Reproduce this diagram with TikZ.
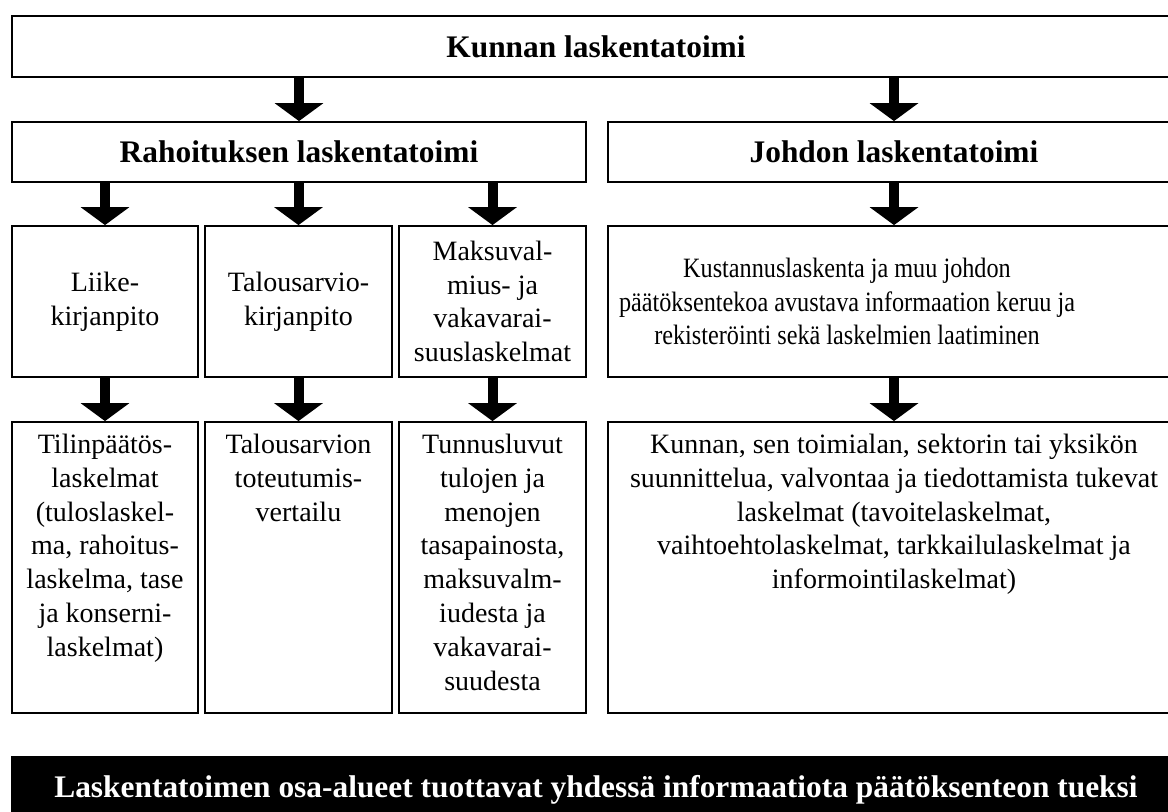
\documentclass[tikz,border=0pt]{standalone}
\usepackage{fontspec}
\setmainfont{Liberation Serif}
\newfontfamily\narrowserif[FakeStretch=0.865]{Liberation Serif}
\usetikzlibrary{arrows.meta}

\begin{document}
\begin{tikzpicture}[
        x=0.5pt, y=-0.5pt,
        box/.style={draw, line width=0.9pt, inner sep=0pt, align=center,
            font=\fontsize{14}{16.9}\selectfont},
        head/.style={box, font=\fontsize{15.7}{18}\selectfont\bfseries},
        toptext/.style={anchor=north, align=center, yshift=-3pt,
            font=\fontsize{14}{16.9}\selectfont},
        flow/.style={line width=5pt, -{Triangle[length=9pt, width=24pt]}}
    ]
    \useasboundingbox (0,0) rectangle (1168,812);
    \clip (0,0) rectangle (1168,812);

    % Top levels
    \node[head, minimum width=584pt, minimum height=30.5pt] (kunta) at (596,46.5) {Kunnan laskentatoimi};
    \node[head, minimum width=287pt, minimum height=30pt] (rahoitus) at (299,152) {Rahoituksen laskentatoimi};
    \node[head, minimum width=286pt, minimum height=30pt] (johto) at (894,152) {Johdon laskentatoimi};

    % Third row
    \node[box, minimum width=93pt, minimum height=75.5pt] (liike) at (105,301.5) {Liike-\\kirjanpito};
    \node[box, minimum width=93.5pt, minimum height=75.5pt] (talous) at (298.5,301.5) {Talousarvio-\\kirjanpito};
    \node[box, minimum width=93.5pt, minimum height=75.5pt] (maksu) at (492.5,301.5) {Maksuval-\\mius- ja\\vakavarai-\\suuslaskelmat};
    \node[box, minimum width=286pt, minimum height=75.5pt,
        label={[align=center, xshift=-23.5pt, font=\narrowserif\fontsize{14}{16.9}\selectfont]center:{Kustannuslaskenta ja muu johdon\\päätöksentekoa avustava informaation keruu ja\\rekisteröinti sekä laskelmien laatiminen}}]
        (kustannus) at (894,301.5) {};

    % Fourth row
    \node[box, minimum width=93pt, minimum height=145.5pt,
        label={[toptext]north:{Tilinpäätös-\\laskelmat\\(tuloslaskel-\\ma, rahoitus-\\laskelma, tase\\ja konserni-\\laskelmat)}}]
        (tilinpaatos) at (105,567.5) {};
    \node[box, minimum width=93.5pt, minimum height=145.5pt,
        label={[toptext]north:{Talousarvion\\toteutumis-\\vertailu}}]
        (vertailu) at (298.5,567.5) {};
    \node[box, minimum width=93.5pt, minimum height=145.5pt,
        label={[toptext]north:{Tunnusluvut\\tulojen ja\\menojen\\tasapainosta,\\maksuvalm-\\iudesta ja\\vakavarai-\\suudesta}}]
        (tunnusluvut) at (492.5,567.5) {};
    \node[box, minimum width=286pt, minimum height=145.5pt,
        label={[toptext]north:{Kunnan, sen toimialan, sektorin tai yksikön\\suunnittelua, valvontaa ja tiedottamista tukevat\\laskelmat (tavoitelaskelmat,\\vaihtoehtolaskelmat, tarkkailulaskelmat ja\\informointilaskelmat)}}]
        (laskelmat) at (894,567.5) {};

    % Summary bar
    \node[head, fill=black, text=white, minimum width=584pt, minimum height=33pt] (yhteenveto) at (596,790)
        {Laskentatoimen osa-alueet tuottavat yhdessä informaatiota päätöksenteon tueksi};

    % Arrows
    \draw[flow] (kunta.south -| rahoitus) -- (rahoitus.north);
    \draw[flow] (kunta.south -| johto) -- (johto.north);
    \foreach \n in {liike,talous,maksu}
        \draw[flow] (rahoitus.south -| \n) -- (\n.north);
    \draw[flow] (johto) -- (kustannus);
    \draw[flow] (liike) -- (tilinpaatos);
    \draw[flow] (talous) -- (vertailu);
    \draw[flow] (maksu) -- (tunnusluvut);
    \draw[flow] (kustannus) -- (laskelmat);

\end{tikzpicture}
\end{document}
